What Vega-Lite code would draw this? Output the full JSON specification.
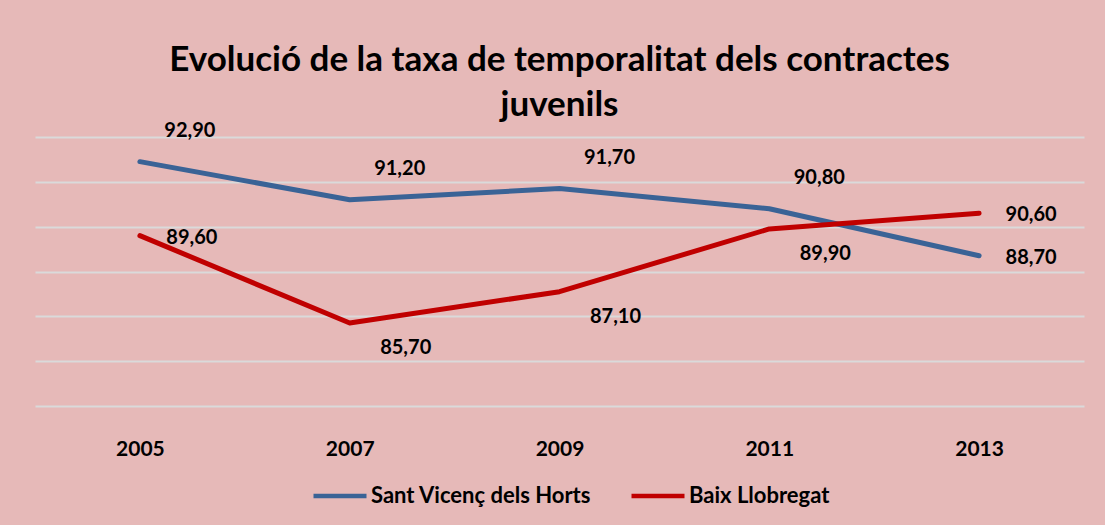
{
  "$schema": "https://vega.github.io/schema/vega-lite/v6.json",
  "width": 1049,
  "height": 269,
  "autosize": {"type": "none"},
  "padding": {"left": 35, "top": 137, "right": 21, "bottom": 119},
  "background": "#E6B9B8",
  "title": {
    "text": ["Evolució de la taxa de temporalitat dels contractes", "juvenils"],
    "font": "Lato",
    "fontSize": 35,
    "fontWeight": "bold",
    "color": "#000000",
    "lineHeight": 45,
    "anchor": "middle",
    "offset": -2
  },
  "data": {
    "values": [
      {"any": "2005", "serie": "Sant Vicenç dels Horts", "valor": 92.9},
      {"any": "2007", "serie": "Sant Vicenç dels Horts", "valor": 91.2},
      {"any": "2009", "serie": "Sant Vicenç dels Horts", "valor": 91.7},
      {"any": "2011", "serie": "Sant Vicenç dels Horts", "valor": 90.8},
      {"any": "2013", "serie": "Sant Vicenç dels Horts", "valor": 88.7},
      {"any": "2005", "serie": "Baix Llobregat", "valor": 89.6},
      {"any": "2007", "serie": "Baix Llobregat", "valor": 85.7},
      {"any": "2009", "serie": "Baix Llobregat", "valor": 87.1},
      {"any": "2011", "serie": "Baix Llobregat", "valor": 89.9},
      {"any": "2013", "serie": "Baix Llobregat", "valor": 90.6}
    ]
  },
  "encoding": {
    "x": {
      "field": "any",
      "type": "ordinal",
      "scale": {"type": "point", "padding": 0.5},
      "axis": {
        "title": null,
        "domain": false,
        "ticks": false,
        "tickSize": 0,
        "grid": false,
        "labelAngle": 0,
        "labelFont": "Lato",
        "labelFontSize": 21,
        "labelFontWeight": "bold",
        "labelColor": "#000000",
        "labelBaseline": "middle",
        "labelPadding": 43
      }
    },
    "y": {
      "field": "valor",
      "type": "quantitative",
      "scale": {"domain": [82, 94], "nice": false, "zero": false},
      "axis": {
        "title": null,
        "labels": false,
        "ticks": false,
        "domain": false,
        "grid": true,
        "values": [82, 84, 86, 88, 90, 92, 94],
        "gridColor": "#DADADA",
        "gridWidth": 2,
        "gridOpacity": 1
      }
    }
  },
  "layer": [
    {
      "mark": {"type": "line", "strokeWidth": 5, "strokeCap": "round", "strokeJoin": "round"},
      "encoding": {
        "color": {
          "field": "serie",
          "type": "nominal",
          "scale": {"domain": ["Sant Vicenç dels Horts", "Baix Llobregat"], "range": ["#3A6396", "#C00000"]},
          "legend": {
            "title": null,
            "orient": "none",
            "direction": "horizontal",
            "legendX": 276,
            "legendY": 330,
            "symbolType": "stroke",
            "symbolSize": 2809,
            "symbolStrokeWidth": 4.5,
            "labelFont": "Lato",
            "labelFontSize": 22,
            "labelFontWeight": "bold",
            "labelColor": "#000000",
            "labelOffset": 2,
            "labelLimit": 0,
            "columnPadding": 30,
            "padding": 0
          }
        }
      }
    },
    {
      "transform": [{"filter": "datum.serie == 'Sant Vicenç dels Horts' && datum.any != '2013'"}],
      "mark": {"type": "text", "font": "Lato", "fontSize": 20, "fontWeight": "bold", "color": "#000000", "dx": 50, "dy": -31},
      "encoding": {"text": {"field": "valor", "type": "quantitative", "format": ".2f"}}
    },
    {
      "transform": [{"filter": "datum.any == '2013' || (datum.serie == 'Baix Llobregat' && datum.any == '2005')"}],
      "mark": {"type": "text", "font": "Lato", "fontSize": 20, "fontWeight": "bold", "color": "#000000", "dx": 52, "dy": 2},
      "encoding": {"text": {"field": "valor", "type": "quantitative", "format": ".2f"}}
    },
    {
      "transform": [{"filter": "datum.serie == 'Baix Llobregat' && datum.any != '2005' && datum.any != '2013'"}],
      "mark": {"type": "text", "font": "Lato", "fontSize": 20, "fontWeight": "bold", "color": "#000000", "dx": 56, "dy": 25},
      "encoding": {"text": {"field": "valor", "type": "quantitative", "format": ".2f"}}
    }
  ],
  "config": {
    "view": {"stroke": null},
    "locale": {"number": {"decimal": ",", "thousands": ".", "grouping": [3], "currency": ["", " €"]}}
  }
}
